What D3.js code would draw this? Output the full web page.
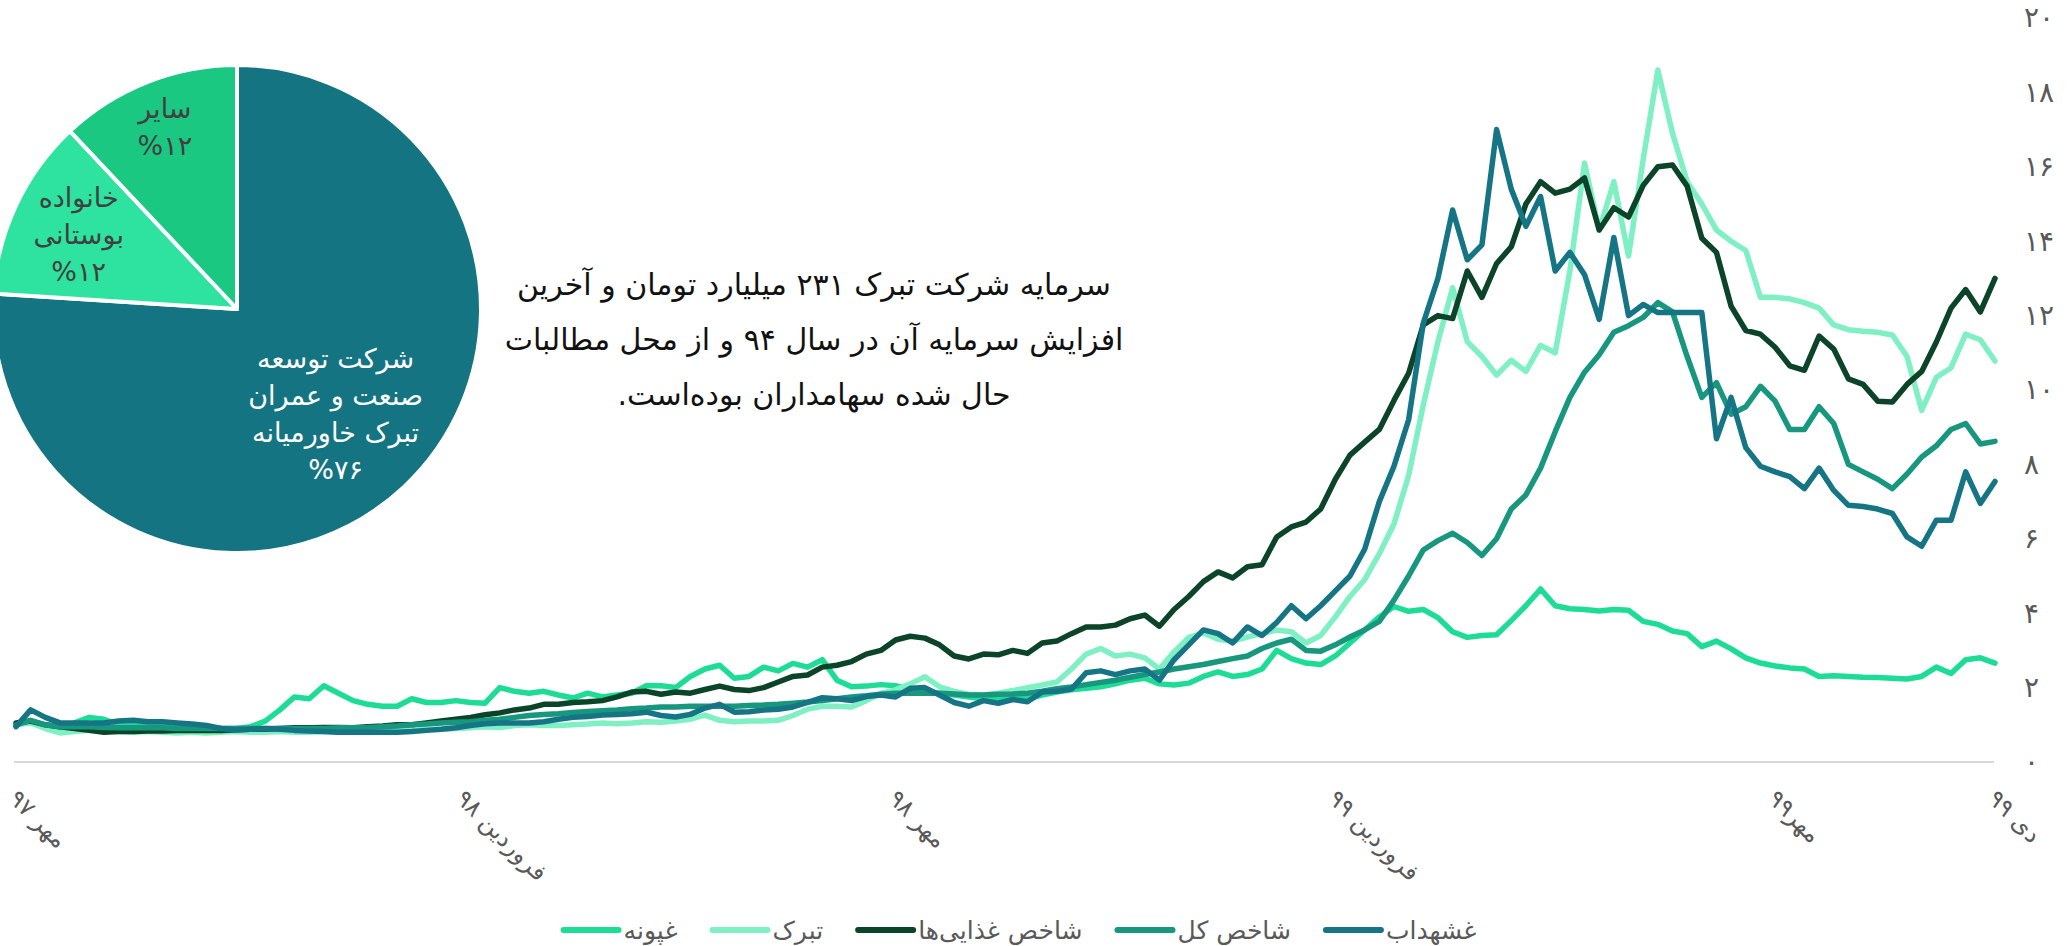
<!DOCTYPE html>
<html lang="fa">
<head>
<meta charset="utf-8">
<script src="https://cdn.jsdelivr.net/npm/d3@7"></script>
<style>
  body { margin: 0; background: #fff; }
  svg { display: block; font-family: "DejaVu Sans", sans-serif; }
</style>
</head>
<body>
<div id="wrapper"></div>
<script>
// x grid: one sample every 0.2 month, from Mehr 97 (0) to Dey 99 (27)
const months = d3.range(136).map((i) => i * 0.2);

const monthTicks = [0, 6.1, 12, 18, 24, 27];
const monthTickLabels = ["مهر ۹۷", "فروردین ۹۸", "مهر ۹۸", "فروردین ۹۹", "مهر۹۹", "دی ۹۹"];
const yTicks = [0, 2, 4, 6, 8, 10, 12, 14, 16, 18, 20];

const ghpoune = [1.0,1.1,0.95,0.8,1.05,1.2,1.15,1.0,1.0,0.95, 1.0,0.95,0.95,0.9,0.9,0.9,0.95,1.1,1.4,1.75,
  1.7,2.05,1.85,1.65,1.55,1.5,1.5,1.7,1.6,1.6, 1.65,1.6,1.58,2.0,1.9,1.85,1.9,1.8,1.72,1.85,
  1.75,1.8,1.85,2.05,2.05,2.0,2.3,2.5,2.6,2.25, 2.3,2.55,2.45,2.65,2.55,2.75,2.2,2.02,2.04,2.08,
  2.05,1.95,1.9,1.85,1.8,1.75,1.7,1.72,1.7,1.7, 1.8,1.88,1.94,1.98,2.02,2.1,2.2,2.25,2.1,2.07,
  2.12,2.3,2.42,2.3,2.35,2.5,3.0,2.78,2.66,2.62, 2.85,3.2,3.55,3.9,4.18,4.05,4.1,3.88,3.5,3.35,
  3.4,3.42,3.8,4.2,4.65,4.2,4.12,4.1,4.06,4.1, 4.08,3.78,3.7,3.52,3.45,3.1,3.25,3.04,2.8,2.66,
  2.58,2.53,2.5,2.3,2.32,2.3,2.28,2.27,2.25,2.23, 2.3,2.55,2.38,2.75,2.8,2.66];

const tabarok = [1.0,1.05,0.9,0.78,0.82,0.85,0.85,0.82,0.8,0.82, 0.8,0.78,0.8,0.78,0.8,0.82,0.8,0.8,0.82,0.8,
  0.8,0.82,0.8,0.8,0.82,0.83,0.85,0.85,0.88,0.88, 0.9,0.92,0.95,0.93,0.98,1.0,0.98,0.98,1.0,1.02,
  1.05,1.03,1.05,1.08,1.07,1.1,1.15,1.26,1.12,1.08, 1.1,1.1,1.12,1.25,1.42,1.5,1.5,1.48,1.65,1.85,
  1.94,2.1,2.29,2.02,1.9,1.82,1.8,1.85,1.92,2.0, 2.07,2.15,2.5,2.9,3.05,2.85,2.9,2.8,2.5,2.96,
  3.35,3.47,3.3,3.25,3.36,3.45,3.55,3.5,3.2,3.4, 3.9,4.45,4.9,5.6,6.4,7.7,9.6,11.3,12.75,11.3,
  10.9,10.4,10.8,10.5,11.2,11.0,13.2,16.1,14.3,15.6, 13.6,16.2,18.6,16.9,15.6,15.0,14.3,14.0,13.75,12.49,
  12.49,12.45,12.35,12.2,11.75,11.62,11.58,11.55,11.48,10.9, 9.45,10.34,10.6,11.5,11.35,10.78];

const ghazaee = [1.05,1.1,1.0,0.95,0.9,0.85,0.8,0.82,0.82,0.83, 0.83,0.85,0.85,0.85,0.85,0.87,0.88,0.88,0.9,0.92,
  0.92,0.93,0.93,0.92,0.95,0.97,1.0,1.0,1.05,1.1, 1.15,1.2,1.27,1.32,1.4,1.45,1.55,1.55,1.6,1.62,
  1.65,1.75,1.88,1.9,1.82,1.88,1.85,1.95,2.04,1.95, 1.92,2.0,2.15,2.3,2.34,2.55,2.6,2.7,2.9,3.0,
  3.28,3.38,3.33,3.15,2.85,2.77,2.9,2.88,3.0,2.92, 3.2,3.25,3.45,3.63,3.63,3.68,3.85,3.95,3.65,4.1,
  4.45,4.85,5.11,4.95,5.25,5.3,6.05,6.32,6.45,6.8, 7.6,8.25,8.6,8.94,9.72,10.45,11.75,12.0,11.92,13.2,
  12.49,13.4,13.85,15.0,15.6,15.29,15.4,15.7,14.3,14.9, 14.65,15.5,16.0,16.05,15.48,14.08,13.7,12.25,11.6,11.5,
  11.15,10.65,10.53,11.45,11.1,10.3,10.15,9.7,9.68,10.15, 10.5,11.29,12.2,12.7,12.1,13.0];

const shakhesKol = [1.0,1.12,1.0,0.95,0.95,0.95,0.93,0.92,0.92,0.93, 0.92,0.9,0.9,0.9,0.9,0.9,0.9,0.9,0.9,0.9,
  0.9,0.9,0.92,0.92,0.93,0.95,0.97,1.0,1.02,1.05, 1.07,1.08,1.12,1.15,1.2,1.25,1.28,1.3,1.33,1.36,
  1.38,1.4,1.43,1.45,1.48,1.48,1.5,1.5,1.5,1.5, 1.52,1.53,1.55,1.58,1.61,1.65,1.7,1.75,1.78,1.82,
  1.85,1.85,1.85,1.85,1.83,1.8,1.8,1.82,1.83,1.85, 1.9,1.97,2.02,2.08,2.14,2.2,2.28,2.35,2.42,2.5,
  2.56,2.62,2.7,2.78,2.85,3.05,3.2,3.3,3.0,2.98, 3.15,3.36,3.55,3.78,4.35,5.0,5.7,5.95,6.15,5.9,
  5.55,6.0,6.8,7.18,7.9,8.88,9.8,10.48,10.95,11.55, 11.73,11.95,12.35,12.1,10.9,9.8,10.2,9.35,9.55,10.1,
  9.7,8.94,8.94,9.55,9.1,8.0,7.8,7.6,7.35,7.74, 8.2,8.5,8.94,9.1,8.55,8.62];

const ghashahdab = [0.95,1.4,1.2,1.05,1.05,1.05,1.05,1.1,1.12,1.08, 1.08,1.05,1.02,0.98,0.9,0.86,0.88,0.9,0.88,0.85,
  0.83,0.82,0.8,0.8,0.8,0.8,0.8,0.82,0.85,0.88, 0.92,0.98,1.03,1.05,1.05,1.05,1.08,1.15,1.2,1.22,
  1.26,1.28,1.3,1.34,1.25,1.21,1.28,1.45,1.55,1.34, 1.35,1.4,1.42,1.48,1.6,1.73,1.7,1.65,1.76,1.8,
  1.75,1.98,2.0,1.8,1.6,1.5,1.65,1.58,1.68,1.62, 1.88,1.9,1.96,2.4,2.45,2.35,2.45,2.5,2.2,2.75,
  3.15,3.55,3.45,3.2,3.63,3.4,3.75,4.2,3.85,4.2, 4.6,5.0,5.72,7.0,7.95,9.2,11.8,13.0,14.84,13.5,
  13.9,17.0,15.4,14.4,15.2,13.2,13.7,13.1,11.9,14.1, 12.0,12.3,12.08,12.08,12.08,12.08,8.69,9.8,8.45,7.95,
  7.8,7.67,7.35,7.9,7.3,6.9,6.87,6.8,6.68,6.05, 5.8,6.5,6.5,7.8,6.95,7.54];

// legend order left to right
const legendNames = ["غپونه", "تبرک", "شاخص غذایی‌ها", "شاخص کل", "غشهداب"];
const legendColors = ["#1ddc96", "#7ef0c4", "#0b4429", "#17977e", "#167585"];
const legendValues = [ghpoune, tabarok, ghazaee, shakhesKol, ghashahdab];

// shareholders pie
const pieValues = [76, 12, 12];
const pieLabels = [
  ["شرکت توسعه", "صنعت و عمران", "تبرک خاورمیانه", "%۷۶"],
  ["خانواده", "بوستانی", "%۱۲"],
  ["سایر", "%۱۲"],
];
const pieColors = ["#157482", "#2ee29f", "#1bc882"];
const pieTextColors = ["#ffffff", "#404040", "#404040"];

const noteLines = [
  "سرمایه شرکت تبرک ۲۳۱ میلیارد تومان و آخرین",
  "افزایش سرمایه آن در سال ۹۴ و از محل مطالبات",
  "حال شده سهامداران بوده‌است.",
];

const toFa = (n) => String(n).replace(/\d/g, (d) => "۰۱۲۳۴۵۶۷۸۹"[d]);

const width = 2068;
const height = 946;

const svg = d3
  .select("#wrapper")
  .append("svg")
  .attr("width", width)
  .attr("height", height);

svg.append("rect").attr("width", width).attr("height", height).attr("fill", "#fff");

const xScale = d3.scaleLinear().domain([0, 27]).range([16, 1995]);
const yScale = d3.scaleLinear().domain([0, 20]).range([762, 18]);

// baseline
svg
  .append("line")
  .attr("x1", 14)
  .attr("x2", 1994)
  .attr("y1", yScale(0))
  .attr("y2", yScale(0))
  .attr("stroke", "#d9d9d9")
  .attr("stroke-width", 2);

// y axis on the right
const yAxis = svg
  .append("g")
  .attr("transform", "translate(2024,0)")
  .call(d3.axisRight(yScale).tickValues(yTicks).tickSize(0).tickPadding(0).tickFormat(toFa));
yAxis.select(".domain").remove();
yAxis
  .selectAll("text")
  .attr("font-family", "DejaVu Sans")
  .attr("font-size", 28)
  .attr("fill", "#595959");

// x axis labels, rotated
const xAxis = svg
  .append("g")
  .attr("transform", `translate(0,${yScale(0)})`)
  .call(
    d3
      .axisBottom(xScale)
      .tickValues(monthTicks)
      .tickSize(0)
      .tickFormat((d, i) => monthTickLabels[i])
  );
xAxis.select(".domain").remove();
xAxis
  .selectAll("text")
  .attr("font-family", "DejaVu Sans")
  .attr("font-size", 24)
  .attr("fill", "#595959")
  .attr("x", 0)
  .attr("y", 0)
  .attr("dy", 0)
  .style("text-anchor", "start")
  .attr("transform", "translate(-9,38) rotate(45)");

// lines
const lineGen = d3
  .line()
  .x((d, i) => xScale(months[i]))
  .y((d) => yScale(d));

const linesGroup = svg.append("g");
legendValues.forEach((values, k) => {
  linesGroup
    .append("path")
    .datum(values)
    .attr("d", lineGen)
    .attr("fill", "none")
    .attr("stroke", legendColors[k])
    .attr("stroke-width", 5.5)
    .attr("stroke-linejoin", "round")
    .attr("stroke-linecap", "round");
});

// legend
const legend = svg.append("g");
let cursor = 0;
legendNames.forEach((name, k) => {
  const g = legend.append("g");
  g.append("line")
    .attr("x1", 0)
    .attr("x2", 55)
    .attr("stroke", legendColors[k])
    .attr("stroke-width", 6)
    .attr("stroke-linecap", "round");
  const t = g
    .append("text")
    .attr("x", 60)
    .attr("dy", "0.35em")
    .attr("font-size", 25)
    .attr("fill", "#595959")
    .text(name);
  const w = 60 + t.node().getComputedTextLength();
  g.attr("transform", `translate(${cursor},0)`);
  cursor += w + 35;
});
const legendWidth = cursor - 35;
legend.attr("transform", `translate(${1020 - legendWidth / 2},930)`);

// annotation
const note = svg
  .append("text")
  .attr("direction", "rtl")
  .attr("text-anchor", "middle")
  .attr("font-size", 30)
  .attr("fill", "#111");
noteLines.forEach((line, i) => {
  note
    .append("tspan")
    .attr("x", 814)
    .attr("y", 284 + i * 55)
    .attr("dy", "0.35em")
    .text(line);
});

// pie
const pieCenter = [237, 309];
const pieRadius = 244;
const labelRadius = [144, 175, 196];

const arcs = d3.pie().sort(null).value((d) => d)(pieValues);
const arcGen = d3.arc().innerRadius(0).outerRadius(pieRadius);

const pieGroup = svg
  .append("g")
  .attr("transform", `translate(${pieCenter[0]},${pieCenter[1]})`);

pieGroup
  .selectAll("path")
  .data(arcs)
  .enter()
  .append("path")
  .attr("d", arcGen)
  .attr("fill", (d, i) => pieColors[i])
  .attr("stroke", "#fff")
  .attr("stroke-width", 4)
  .attr("stroke-linejoin", "round");

arcs.forEach((a, i) => {
  const c = d3.arc().innerRadius(labelRadius[i]).outerRadius(labelRadius[i]).centroid(a);
  const lines = pieLabels[i];
  const lh = 37;
  const t = pieGroup
    .append("text")
    .attr("direction", "rtl")
    .attr("text-anchor", "middle")
    .attr("font-size", 27)
    .attr("fill", pieTextColors[i]);
  lines.forEach((ln, j) => {
    t.append("tspan")
      .attr("x", c[0])
      .attr("y", c[1] + (j - (lines.length - 1) / 2) * lh)
      .attr("dy", "0.35em")
      .attr("direction", ln.startsWith("%") ? "ltr" : "rtl")
      .text(ln);
  });
});
</script>
</body>
</html>
